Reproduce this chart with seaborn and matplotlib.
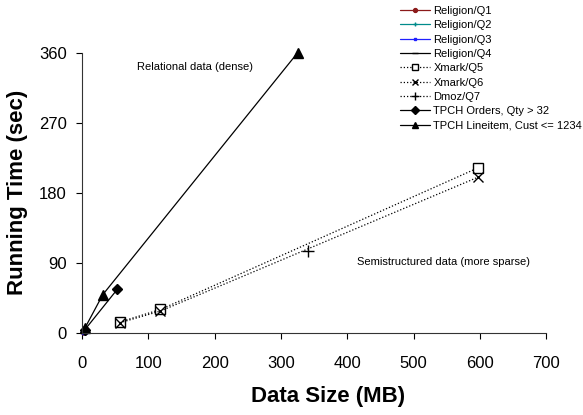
import matplotlib
matplotlib.use("Agg")
import matplotlib.pyplot as plt
import seaborn as sns

# Data (MB, sec)
rel_q1_x = [2, 4, 6]
rel_q1_y = [1, 2, 3]
rel_q2_x = [2, 4, 6]
rel_q2_y = [1, 1.5, 2.5]
rel_q3_x = [2, 4, 6]
rel_q3_y = [1, 2, 2.5]
rel_q4_x = [2, 4, 6]
rel_q4_y = [1.5, 2.5, 3.5]
xmark_q5_x = [57, 118, 597]
xmark_q5_y = [14, 30, 212]
xmark_q6_x = [57, 118, 597]
xmark_q6_y = [13, 28, 200]
dmoz_q7_x = [341]
dmoz_q7_y = [105]
tpch_orders_x = [4, 53]
tpch_orders_y = [4, 56]
tpch_line_x = [4, 31, 325]
tpch_line_y = [6, 49, 360]

x_ticks = [0, 100, 200, 300, 400, 500, 600, 700]
y_ticks = [0, 90, 180, 270, 360]

sns.set_style("ticks")
plt.rcParams['font.family'] = ['Liberation Sans', 'DejaVu Sans']
plt.rcParams['text.color'] = 'black'
plt.rcParams['axes.labelcolor'] = 'black'

fig = plt.figure(figsize=(5.83, 4.15), dpi=100)
ax = fig.add_axes([0.141, 0.198, 0.796, 0.675])

dot = (0, (1, 1.6))
series = [
    ("Religion/Q1", rel_q1_x, rel_q1_y, "#8b1a1a", "o", "-", 4, "#8b1a1a"),
    ("Religion/Q2", rel_q2_x, rel_q2_y, "#008b8b", "+", "-", 5, "#008b8b"),
    ("Religion/Q3", rel_q3_x, rel_q3_y, "#2020ff", "s", "-", 2.5, "#2020ff"),
    ("Religion/Q4", rel_q4_x, rel_q4_y, "black", "_", "-", 6, "black"),
    ("Xmark/Q5", xmark_q5_x, xmark_q5_y, "black", "s", dot, 7, "white"),
    ("Xmark/Q6", xmark_q6_x, xmark_q6_y, "black", "x", dot, 7, "black"),
    ("Dmoz/Q7", dmoz_q7_x, dmoz_q7_y, "black", "+", dot, 9, "black"),
    ("TPCH Orders, Qty > 32", tpch_orders_x, tpch_orders_y, "black", "D", "-", 5.5, "black"),
    ("TPCH Lineitem, Cust <= 1234", tpch_line_x, tpch_line_y, "black", "^", "-", 7, "black"),
]

for label, xs, ys, col, mk, ls, ms, fc in series:
    sns.lineplot(x=xs, y=ys, ax=ax, color=col, marker=mk, linestyle=ls,
                 linewidth=0.9, markersize=ms, markerfacecolor=fc,
                 markeredgecolor=col, markeredgewidth=1.0, label=label,
                 sort=False, estimator=None, clip_on=False)

ax.set_xlim(0, 700)
ax.set_ylim(0, 360)
ax.set_xticks(x_ticks)
ax.set_yticks(y_ticks)
ax.tick_params(labelsize=12, length=4, width=0.8, colors="black", direction="out")
ax.tick_params(axis="x", pad=13)
ax.tick_params(axis="y", pad=7)
for s in ["left", "bottom"]:
    ax.spines[s].set_linewidth(0.8)
    ax.spines[s].set_color("#333333")
sns.despine(ax=ax)

ax.set_xlabel("Data Size (MB)", fontsize=16, fontweight="bold")
ax.set_ylabel("Running Time (sec)", fontsize=16, fontweight="bold", labelpad=8)
ax.xaxis.set_label_coords(0.53, -0.19)

ax.text(83, 342, "Relational data (dense)", fontsize=8, va="center")
ax.text(415, 91, "Semistructured data (more sparse)", fontsize=8, va="center")

ax.legend(loc="upper left", bbox_to_anchor=(400 / 583, 1 - 6 / 415),
          bbox_transform=fig.transFigure, frameon=False, fontsize=8,
          handlelength=2.7, handletextpad=0.3, labelspacing=0.39,
          borderaxespad=0, borderpad=0, markerscale=0.7)

fig.savefig("out.png", dpi=100)
